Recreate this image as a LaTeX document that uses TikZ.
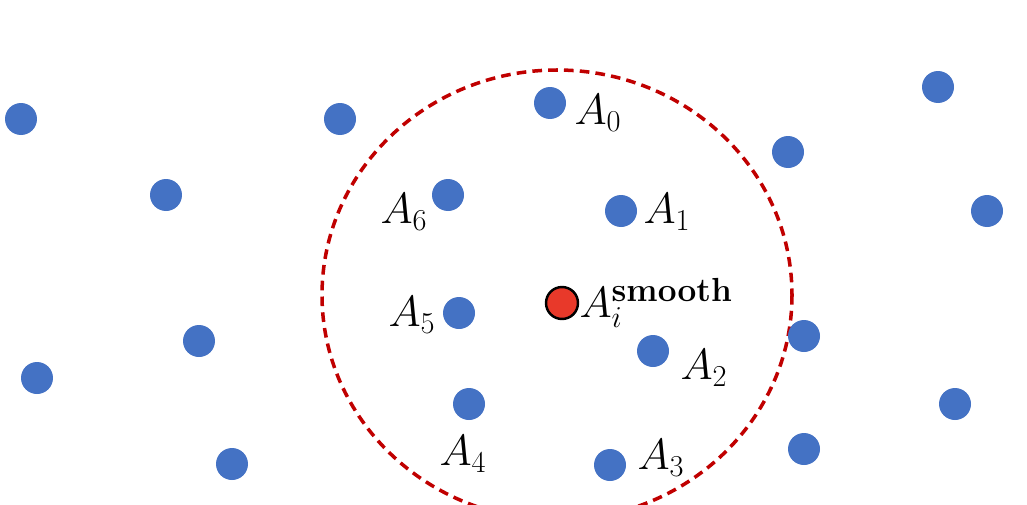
\documentclass[tikz,border=0pt]{standalone}
\usepackage{amsmath,amssymb}
\usepackage{tikz}
\usetikzlibrary{positioning}
\definecolor{ptblue}{HTML}{4472C4}
\definecolor{ringred}{HTML}{C00000}
\definecolor{dotred}{HTML}{E8392A}

\begin{document}
\begin{tikzpicture}[
  x=0.02cm, y=-0.02cm,
  every node/.style={font=\fontsize{23}{27}\selectfont, inner sep=1pt},
  pt/.style={circle, fill=ptblue, minimum size=0.64cm, inner sep=0pt},
  center/.style={circle, fill=dotred, draw=black, line width=1.4pt, minimum size=0.64cm, inner sep=0pt},
  ring/.style={draw=ringred, line width=2pt, dash pattern=on 5.5pt off 3.5pt}
]
\useasboundingbox (0,0) rectangle (1027,504);

% neighbourhood
\draw[ring] (557,295) ellipse [x radius=235, y radius=225];

% points outside
\node[pt] (p1) at (21,119) {};
\node[pt] (p2) at (340,119) {};
\node[pt] (p3) at (166,195) {};
\node[pt] (p4) at (199,341) {};
\node[pt] (p5) at (37,378) {};
\node[pt] (p6) at (232,464) {};
\node[pt] (p7) at (788,152) {};
\node[pt] (p8) at (938,87) {};
\node[pt] (p9) at (987,211) {};
\node[pt] (p10) at (804,336) {};
\node[pt] (p11) at (955,404) {};
\node[pt] (p12) at (804,449) {};

% neighbours
\node[pt] (a0) at (550,103) {};
\node[pt] (a1) at (621,211) {};
\node[pt] (a2) at (653,351) {};
\node[pt] (a3) at (610,465) {};
\node[pt] (a4) at (469,404) {};
\node[pt] (a5) at (459,313) {};
\node[pt] (a6) at (448,195) {};
\node[center] (ai) at (562,303) {};

% labels
\node (l0) at (598,113) {$A_0$};
\node (l1) at (667,212) {$A_1$};
\node (l2) at (704,368) {$A_2$};
\node (l3) at (661,458) {$A_3$};
\node (l4) at (463,454) {$A_4$};
\node (l5) at (412,315) {$A_5$};
\node (l6) at (404,212) {$A_6$};
\node[anchor=west, xshift=-1pt] (li) at (ai.east) {$A_i^{\mbox{\fontsize{19}{22}\selectfont\bfseries smooth}}$};
\end{tikzpicture}
\end{document}
